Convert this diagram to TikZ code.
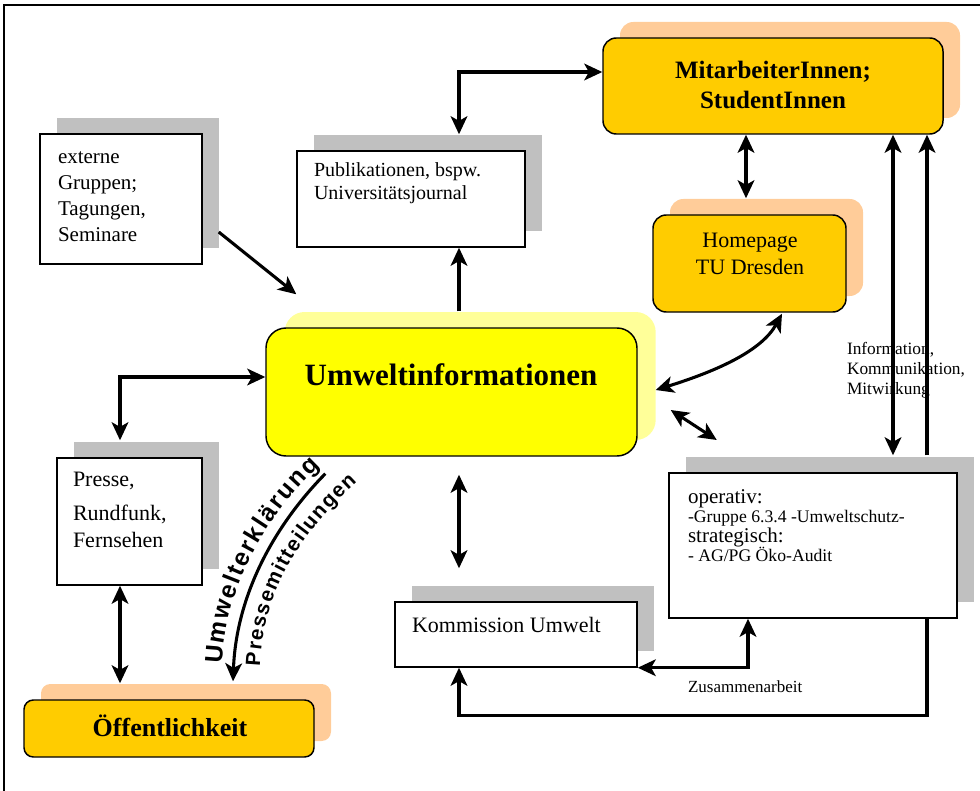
\documentclass[tikz,border=0pt]{standalone}
\usepackage{fontspec}
\setmainfont{Liberation Serif}
\newfontfamily\arialfam{Liberation Sans}
\usetikzlibrary{calc,arrows.meta,shadows,decorations.text}

\definecolor{boxgold}{HTML}{FFCC00}
\definecolor{peach}{HTML}{FFCC99}
\definecolor{sunyellow}{HTML}{FFFF00}
\definecolor{paleyellow}{HTML}{FFFF99}
\definecolor{shadegray}{HTML}{C0C0C0}

% one drawing unit = one pixel of the layout grid
\newcommand\pxl{0.75pt}

\tikzset{
  wh/.style 2 args={minimum width=#1*\pxl, minimum height=#2*\pxl},
  boxbase/.style={draw=black, line width=1.1pt, inner sep=0pt},
  plainbox/.style={boxbase, fill=white,
    drop shadow={shadow xshift=12.75pt, shadow yshift=12pt, fill=shadegray, opacity=1}},
  goldbox/.style={boxbase, fill=boxgold, rounded corners=10pt,
    drop shadow={shadow xshift=12.75pt, shadow yshift=12pt, fill=peach, opacity=1}},
  corebox/.style={boxbase, fill=sunyellow, rounded corners=15pt,
    drop shadow={shadow xshift=14pt, shadow yshift=12pt, fill=paleyellow, opacity=1}},
  txt/.style={inner sep=0pt, outer sep=0pt},
  conn/.style={line width=2.3pt},
  >={Stealth[length=13.5pt,width=12.5pt,inset=3.5pt]}
}

\begin{document}
\begin{tikzpicture}[x=0.75pt,y=-0.75pt]
\useasboundingbox (0,0) rectangle (980,791);

% outer frame
\draw[line width=1.1pt] (980,5) -- (4,5) -- (4,791);

% boxes
\node[goldbox, wh={340}{96}] (mit) at (773,86) {};
\node[plainbox, wh={228}{96}] (pub) at (411,199) {};
\node[plainbox, wh={162}{130}] (ext) at (121,199) {};
\node[goldbox, wh={193}{97}] (home) at (749.5,263.5) {};
\node[corebox, wh={371}{128}] (umw) at (451.5,392) {};
\node[plainbox, wh={145}{127}] (presse) at (129.5,521.5) {};
\node[goldbox, rounded corners=7pt, wh={290}{57}] (oeff) at (169,728.5) {};
\node[plainbox, wh={242}{65}] (komm) at (516,634.5) {};
\node[plainbox, wh={288}{145}] (op) at (813,545.5) {};

% texts (multi-line nodes are anchored at the baseline of their last line)
\node[txt, anchor=base, align=center, font=\bfseries\fontsize{18.75}{22.5}\selectfont] (mittxt) at (773,109) {MitarbeiterInnen;\\StudentInnen};
\node[txt, anchor=base west, align=left, font=\fontsize{15}{17.25}\selectfont] (pubtxt) at (314,200) {Publikationen, bspw.\\Universitätsjournal};
\node[txt, anchor=base west, align=left, font=\fontsize{15.75}{19.5}\selectfont] (exttxt) at (58,242) {externe\\Gruppen;\\Tagungen,\\Seminare};
\node[txt, anchor=base, align=center, font=\fontsize{16.5}{20.25}\selectfont] (hometxt) at (750,275) {Homepage\\TU Dresden};
\node[txt, anchor=base, font=\bfseries\fontsize{23.25}{28}\selectfont] (umwtxt) at (451,385) {Umweltinformationen};
\node[txt, anchor=base west, align=left, font=\fontsize{16.5}{20.25}\selectfont] (pressetxt) at (73,547) {Presse,\\[5pt]Rundfunk,\\Fernsehen};
\node[txt, anchor=base, font=\bfseries\fontsize{19.5}{23}\selectfont] (oefftxt) at (170,736) {Öffentlichkeit};
\node[txt, anchor=base west, font=\fontsize{16.5}{20}\selectfont] (kommtxt) at (412,632) {Kommission Umwelt};
\node[txt, anchor=base west, font=\fontsize{15.75}{18}\selectfont] (opa) at (688,503) {operativ:};
\node[txt, anchor=base west, font=\fontsize{13.25}{15}\selectfont] (opb) at (688,522) {-Gruppe 6.3.4 -Umweltschutz-};
\node[txt, anchor=base west, font=\fontsize{15.75}{18}\selectfont] (opc) at (688,542) {strategisch:};
\node[txt, anchor=base west, font=\fontsize{13.25}{15}\selectfont] (opd) at (688,561) {- AG/PG Öko-Audit};
\node[txt, anchor=base west, align=left, font=\fontsize{13}{15}\selectfont] (info) at (847,394) {Information,\\Kommunikation,\\Mitwirkung};
\node[txt, anchor=base west, font=\fontsize{12.75}{15}\selectfont] (zus) at (688,692) {Zusammenarbeit};

% connectors
\draw[conn, <->] ($(pub.north)+(48,-16)$) |- ($(mit.west)+(0,-14)$);
\draw[conn, ->] ($(ext.east)+(16,33)$) -- ($(umw.north west)+(31,-33)$);
\draw[conn, ->] ($(umw.north)+(7.5,-16)$) -- ($(pub.south)+(48,0)$);
\draw[conn, <->] ($(mit.south)+(-27,0)$) -- ($(home.north)+(-3.5,-16)$);
\draw[conn, <->] ($(home.south)+(32.5,1)$) .. controls (762,350) and (720,370) .. ($(umw.east)+(18,-2)$);
\draw[conn, <->] ($(umw.east)+(33,18)$) -- ($(umw.east)+(79,48)$);
\draw[conn, <->] ($(umw.west)+(0,-15)$) -| ($(presse.north)+(-9.5,-17)$);
\draw[conn, <->] ($(presse.south)+(-9.5,0)$) -- ($(oeff.north)+(-49,-16)$);
\draw[conn, <->] ($(umw.south)+(7.5,18)$) -- ($(komm.north)+(-57,-33)$);
\draw[conn, <->] ($(mit.south)+(120,0)$) -- ($(op.north)+(80,-17)$);
\draw[conn, ->] ($(op.north)+(114,-17)$) -- ($(mit.south)+(154,0)$);
\draw[conn, ->] ($(op.south)+(114,0)$) |- ($(komm.south)+(-57,48)$) -- ($(komm.south)+(-57,0)$);
\draw[conn, <->] (komm.south east) -| ($(op.south)+(-65,0)$);

% curved press arrow with its two captions
\draw[conn, ->] ($(umw.south west)+(60,17)$) .. controls (270,530) and (236,600) .. ($(oeff.north)+(64,-18)$);
\path[decorate, decoration={text along path, text align={fit to path},
  text={|\arialfam\bfseries\fontsize{18.5}{18.5}\selectfont|Umwelterklärung}}]
  (222,664) .. controls (225,592) and (261,522) .. (320,466);
\path[decorate, decoration={text along path, text align={fit to path},
  text={|\arialfam\bfseries\fontsize{15.5}{15.5}\selectfont|Pressemitteilungen}}]
  (260,666) .. controls (263,592) and (298,536) .. (357,482);
\end{tikzpicture}
\end{document}
